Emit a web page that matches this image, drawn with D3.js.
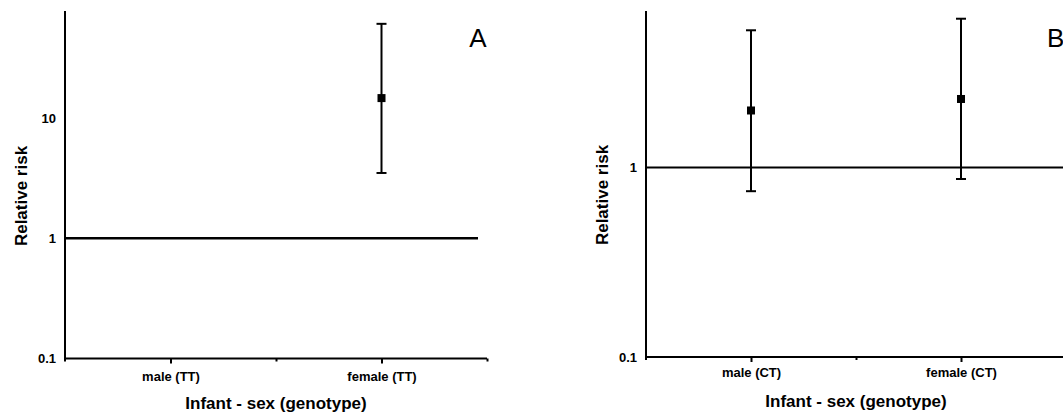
<!DOCTYPE html>
<html>
<head>
<meta charset="utf-8">
<script src="https://cdn.jsdelivr.net/npm/d3@7"></script>
<style>
  html, body { margin: 0; padding: 0; background: #fff; }
  svg { display: block; }
  text { font-family: Arial, "Liberation Sans", sans-serif; fill: #000; }
</style>
</head>
<body>
<svg id="chart" width="1063" height="416"></svg>
<script>
// Relative risk by infant sex, per genotype (log scale, 95% CI)
const groupsA = ["male (TT)", "female (TT)"];
const riskA   = [null, 14.7];
const lowerA  = [null, 3.5];
const upperA  = [null, 61];

const groupsB = ["male (CT)", "female (CT)"];
const riskB   = [2.0, 2.3];
const lowerB  = [0.75, 0.87];
const upperB  = [5.3, 6.1];

const yTickValues = [0.1, 1, 10];
const xAxisTitle = "Infant - sex (genotype)";
const yAxisTitle = "Relative risk";

const svg = d3.select("#chart");

function drawPanel(opt) {
  const g = svg.append("g");
  const x = d3.scaleLinear().domain([0, 4]).range([opt.left, opt.right]);
  const y = d3.scaleLog().domain([0.1, opt.yMax]).range([opt.bottom, opt.top]);

  // group positions sit at 1 and 3 on the category axis
  const pos = [1, 3];

  // x axis
  const xAxis = d3.axisBottom(x)
    .tickValues([1, 2, 3, 4])
    .tickSizeInner(4)
    .tickSizeOuter(0)
    .tickPadding(opt.xLabelPad)
    .tickFormat(d => d === 1 ? opt.groups[0] : d === 3 ? opt.groups[1] : "");
  const xg = g.append("g")
    .attr("transform", `translate(0,${y(0.1)})`)
    .call(xAxis);
  xg.select(".domain").attr("stroke", "#000").attr("stroke-width", 2)
    .attr("d", `M${x(0)},0H${x(4)}`);
  xg.selectAll(".tick line").attr("stroke", "#000").attr("stroke-width", 2)
    .attr("y2", d => (d === 1 || d === 3) ? 5 : 3);
  xg.selectAll(".tick text")
    .style("font-size", "13px").style("font-weight", "bold")
    .style("font-family", "Arial, 'Liberation Sans', sans-serif");

  // y axis
  const yAxis = d3.axisLeft(y)
    .tickValues(yTickValues.filter(v => v <= opt.yMax))
    .tickSize(0)
    .tickPadding(9)
    .tickFormat(d3.format("~g"));
  const yg = g.append("g")
    .attr("transform", `translate(${x(0)},0)`)
    .call(yAxis);
  yg.select(".domain").attr("stroke", "#000").attr("stroke-width", 2)
    .attr("d", `M0,${opt.top}V${y(0.1) + 3}`);
  yg.selectAll(".tick text")
    .style("font-size", "13px").style("font-weight", "bold")
    .style("font-family", "Arial, 'Liberation Sans', sans-serif");

  // reference line at RR = 1
  g.append("line")
    .attr("x1", x(0)).attr("x2", opt.refEnd)
    .attr("y1", y(1)).attr("y2", y(1))
    .attr("stroke", "#000").attr("stroke-width", opt.refWidth);

  // error bars and point estimates
  const data = opt.groups.map((name, i) => ({
    name, p: pos[i], rr: opt.risk[i], lo: opt.lower[i], hi: opt.upper[i]
  })).filter(d => d.rr != null);

  const capHalf = 5;
  const eb = g.selectAll(".eb").data(data).enter().append("g");
  eb.append("line")
    .attr("x1", d => x(d.p)).attr("x2", d => x(d.p))
    .attr("y1", d => y(d.lo)).attr("y2", d => y(d.hi))
    .attr("stroke", "#000").attr("stroke-width", 2);
  eb.append("line")
    .attr("x1", d => x(d.p) - capHalf).attr("x2", d => x(d.p) + capHalf)
    .attr("y1", d => y(d.hi)).attr("y2", d => y(d.hi))
    .attr("stroke", "#000").attr("stroke-width", 2);
  eb.append("line")
    .attr("x1", d => x(d.p) - capHalf).attr("x2", d => x(d.p) + capHalf)
    .attr("y1", d => y(d.lo)).attr("y2", d => y(d.lo))
    .attr("stroke", "#000").attr("stroke-width", 2);
  eb.append("rect")
    .attr("x", d => x(d.p) - 4).attr("y", d => y(d.rr) - 4)
    .attr("width", 8).attr("height", 8)
    .attr("fill", "#000");

  // axis titles
  g.append("text")
    .attr("x", x(2)).attr("y", opt.xTitleY)
    .attr("text-anchor", "middle")
    .style("font-size", "17px").style("font-weight", "bold")
    .text(xAxisTitle);
  g.append("text")
    .attr("transform", `translate(${opt.yTitleX},${opt.yTitleY}) rotate(-90)`)
    .attr("text-anchor", "middle")
    .style("font-size", "17px").style("font-weight", "bold")
    .text(yAxisTitle);

  // panel letter
  g.append("text")
    .attr("x", opt.letterX).attr("y", 47)
    .attr("text-anchor", opt.letterAnchor)
    .style("font-size", "26px")
    .text(opt.letter);
}

drawPanel({
  groups: groupsA, risk: riskA, lower: lowerA, upper: upperA,
  left: 65, right: 487, top: 11, bottom: 358.5, yMax: 78,
  refEnd: 478, refWidth: 2.5, xLabelPad: 9, xTitleY: 409,
  yTitleX: 27, yTitleY: 196, letter: "A", letterX: 478, letterAnchor: "middle"
});

drawPanel({
  groups: groupsB, risk: riskB, lower: lowerB, upper: upperB,
  left: 646, right: 1066, top: 11, bottom: 357, yMax: 6.7,
  refEnd: 1063, refWidth: 2, xLabelPad: 7, xTitleY: 407,
  yTitleX: 608, yTitleY: 195, letter: "B", letterX: 1047, letterAnchor: "start"
});
</script>
</body>
</html>
